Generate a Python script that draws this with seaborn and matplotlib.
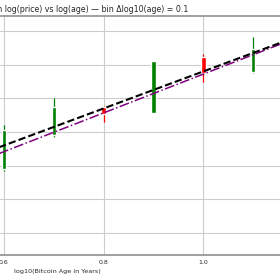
import numpy as np
import pandas as pd
import matplotlib
matplotlib.use("Agg")
from matplotlib import pyplot as plt
import seaborn as sns

# binned candles on log10(age) (bin centres)
bin_age = [0.6, 0.7, 0.8, 0.9, 1.0, 1.1]
c_open = [0.91, 1.91, 2.75, 2.57, 4.23, 3.78]
c_close = [2.06, 2.75, 2.54, 4.11, 3.75, 4.47]
c_high = [2.21, 3.01, 2.78, 4.11, 4.32, 4.82]
c_low = [0.85, 1.86, 2.30, 2.57, 3.49, 3.75]

# fitted lines (slope, intercept) in log10 space
ols_fit = (5.49, -1.69)
alt_fit = (5.75, -2.03)

title = "Binned candles on log(price) vs log(age) \u2014 bin \u0394log10(age) = 0.1"
xlabel = "log10(Bitcoin Age in Years)"

sns.set_style("whitegrid", {"axes.edgecolor": ".6", "grid.color": ".8"})
plt.rcParams['font.family'] = ['DejaVu Sans']

fig = plt.figure(figsize=(2.8, 2.8), dpi=100)
# axes is wider than the figure: only part of the chart shows
ax = fig.add_axes([-0.0391, 0.0893, 1.0855, 0.8536])
xmin, xmax = 0.57, 1.18

df = pd.DataFrame({"age": bin_age, "open": c_open, "close": c_close,
                   "high": c_high, "low": c_low})
df["up"] = df["close"] >= df["open"]
colors = np.where(df["up"], "green", "red")

ax.vlines(df["age"], df["low"], df["high"], colors=colors, lw=0.9, zorder=2)
lo = df[["open", "close"]].min(axis=1)
hi = df[["open", "close"]].max(axis=1)
ax.bar(df["age"], hi - lo, bottom=lo, width=0.009, color=colors, zorder=3)

xs = np.array([xmin, xmax])
lines = pd.DataFrame({
    "x": np.concatenate([xs, xs]),
    "y": np.concatenate([ols_fit[0] * xs + ols_fit[1], alt_fit[0] * xs + alt_fit[1]]),
    "fit": ["ols"] * 2 + ["alt"] * 2,
})
sns.lineplot(data=lines[lines.fit == "ols"], x="x", y="y", ax=ax, color="black",
             lw=1.5, linestyle=(0, (3.5, 1.5)), zorder=5)
sns.lineplot(data=lines[lines.fit == "alt"], x="x", y="y", ax=ax, color="purple",
             lw=1.1, linestyle="-.", zorder=4)

ax.set_xticks([0.6, 0.8, 1.0])
ax.set_yticks(range(-1, 6))
# limits last: set_xticks widens the view otherwise
ax.set_xlim(xmin, xmax)
ax.set_ylim(-1.647, 5.445)
ax.tick_params(labelsize=4.5, pad=0)
ax.set_ylabel("")
for s in ax.spines.values():
    s.set_linewidth(1.3)

ax.set_xlabel(xlabel, fontsize=4.6)
ax.xaxis.label.set_ha("left")
ax.xaxis.set_label_coords((14 + 10.95) / 303.94, -0.06)

fig.text(188 / 280, 1 - 10 / 280, title, ha="right", va="center", fontsize=5.7,
         color=".15")

plt.savefig("out.png", dpi=100)
